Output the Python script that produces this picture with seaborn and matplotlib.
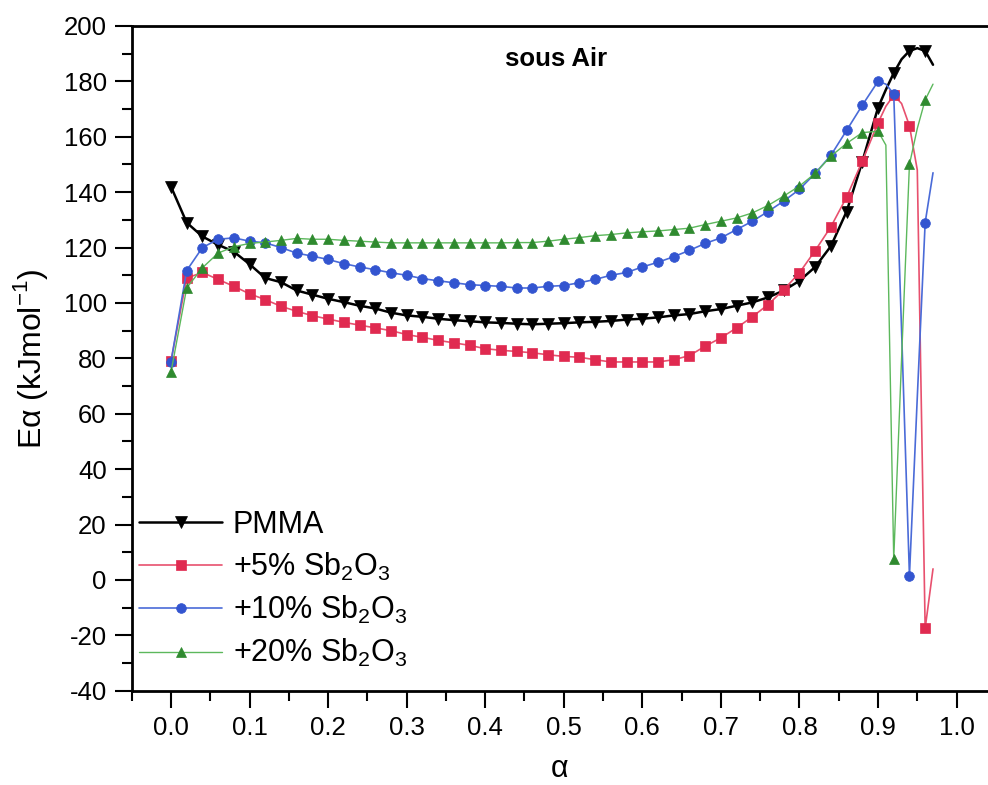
import numpy as np
import pandas as pd
import seaborn as sns
import matplotlib.pyplot as plt
from matplotlib.ticker import MultipleLocator

# conversion degree (alpha): every 0.02 up to 0.90, then every 0.01
alpha = [0.00, 0.02, 0.04, 0.06, 0.08, 0.10, 0.12, 0.14, 0.16, 0.18,
         0.20, 0.22, 0.24, 0.26, 0.28, 0.30, 0.32, 0.34, 0.36, 0.38,
         0.40, 0.42, 0.44, 0.46, 0.48, 0.50, 0.52, 0.54, 0.56, 0.58,
         0.60, 0.62, 0.64, 0.66, 0.68, 0.70, 0.72, 0.74, 0.76, 0.78,
         0.80, 0.82, 0.84, 0.86, 0.88, 0.90, 0.91, 0.92, 0.93, 0.94,
         0.95, 0.96, 0.97]

pmma = [142, 129, 124, 121, 118.5, 114, 109, 107.5, 104.5, 103,
        101.5, 100.3, 99, 98, 96.5, 95.5, 95, 94.3, 93.8, 93.4,
        93, 92.8, 92.5, 92.3, 92.5, 92.7, 93, 93.2, 93.5, 94,
        94.3, 94.8, 95.5, 96, 97, 97.8, 99, 100.2, 102, 104.5,
        108, 113, 120.5, 133, 151, 170.5, 177, 183, 188, 191,
        192, 191, 186]

sb5 = [79, 109, 111, 108.5, 106, 103.3, 101.2, 98.8, 97, 95.4,
       94.2, 93, 92, 91, 90, 88.6, 87.6, 86.5, 85.6, 84.7,
       83.5, 82.9, 82.5, 82, 81.3, 80.7, 80.4, 79.5, 78.7, 78.7,
       78.7, 78.7, 79.5, 81, 84.4, 87.4, 91, 95, 99.4, 104.8,
       110.9, 118.9, 127.5, 138.2, 151.2, 165, 171, 175, 172, 164,
       148, -17.5, 4]

sb10 = [78.8, 111.7, 120, 123, 123.5, 122.3, 121.7, 120, 118, 116.9,
        115.7, 114.2, 113, 112, 110.9, 110, 108.8, 108, 107.3, 106.6,
        106.3, 106, 105.4, 105.4, 106, 106.3, 107.3, 108.5, 110, 111,
        113, 114.7, 116.7, 119, 121.5, 123.5, 126.5, 129.5, 133, 136.8,
        141, 146.8, 153.3, 162.3, 171.4, 180, 179, 175.5, 90, 1.5,
        66, 129, 147]

sb20 = [75, 105.4, 112.7, 118, 120.3, 121.5, 122, 122.6, 123.3, 123,
        123, 122.6, 122.3, 122, 121.7, 121.7, 121.7, 121.7, 121.7, 121.7,
        121.7, 121.7, 121.8, 121.8, 122.3, 123, 123.6, 124.3, 124.7, 125.3,
        125.7, 126, 126.5, 127, 128.3, 129.5, 130.7, 132.5, 135.2, 138.6,
        142.2, 146.8, 153, 157.6, 161.5, 162, 157, 7.5, 80, 150,
        163, 173.3, 179]

labels = ['PMMA', '+5% Sb$_\\mathregular{2}$O$_\\mathregular{3}$',
          '+10% Sb$_\\mathregular{2}$O$_\\mathregular{3}$',
          '+20% Sb$_\\mathregular{2}$O$_\\mathregular{3}$']

df = pd.DataFrame({'alpha': alpha, 'PMMA': pmma, 'sb5': sb5, 'sb10': sb10, 'sb20': sb20})

# markers only on the 0.02 grid
marks = [i for i, a in enumerate(alpha) if round(a * 100) % 2 == 0]

sns.set_style('ticks')
plt.rcParams['font.family'] = ['Liberation Sans', 'DejaVu Sans']
plt.rcParams['mathtext.fontset'] = 'custom'
plt.rcParams['mathtext.rm'] = 'Liberation Sans'
plt.rcParams['axes.unicode_minus'] = False
plt.rcParams['text.color'] = 'black'
plt.rcParams['axes.labelcolor'] = 'black'
plt.rcParams['xtick.color'] = 'black'
plt.rcParams['ytick.color'] = 'black'
plt.rcParams['axes.edgecolor'] = 'black'

fig = plt.figure(figsize=(9.88, 7.85), dpi=100)
ax = fig.add_axes([0.1333, 0.1201, 0.8667, 0.8468])

styles = [
    ('PMMA', 'black', 'black', 'v', 8, 1.8),
    ('sb5', '#e8506e', '#e02a50', 's', 6.5, 1.2),
    ('sb10', '#4a6bd8', '#3355d0', 'o', 7, 1.2),
    ('sb20', '#5cb85c', '#2f8a2f', '^', 7, 1.0),
]
for (col, lc, mc, mk, ms, lw), lab in zip(styles, labels):
    sns.lineplot(data=df, x='alpha', y=col, ax=ax, color=lc, linewidth=lw,
                 marker=mk, markersize=ms, markerfacecolor=mc,
                 markeredgecolor=mc, markeredgewidth=0.5,
                 markevery=marks, label=lab, legend=False, sort=False)

ax.set_xlim(-0.05, 1.04)
ax.set_ylim(-40, 200)
ax.xaxis.set_minor_locator(MultipleLocator(0.05))
ax.yaxis.set_major_locator(MultipleLocator(20))
ax.yaxis.set_minor_locator(MultipleLocator(10))
ax.set_xticks(np.arange(0, 1.01, 0.1))
ax.set_xticklabels([f'{v:.1f}' for v in np.arange(0, 1.01, 0.1)])
ax.tick_params(which='major', length=12, width=1.5, labelsize=18.5, pad=6, direction='out')
ax.tick_params(which='minor', length=7, width=1.5, direction='out')
for s in ['left', 'bottom', 'top']:
    ax.spines[s].set_linewidth(2)
ax.spines['right'].set_visible(False)

ax.set_xlabel('α', fontsize=22, labelpad=10)
ax.set_ylabel('Eα (kJmol$^\\mathregular{-1}$)', fontsize=23, labelpad=10)
ax.text(0.49, 188, 'sous Air', fontsize=18.5, fontweight='bold', ha='center', va='center')

handles = ax.get_lines()[:4]
leg = ax.legend(handles, labels, loc='upper left', bbox_to_anchor=(0.141, 1 - 510 / 785),
                bbox_transform=fig.transFigure, frameon=False, fontsize=22,
                handlelength=2.7, handletextpad=0.35, labelspacing=0.36,
                borderpad=0, borderaxespad=0, numpoints=1)

fig.savefig('out.png', dpi=100)
